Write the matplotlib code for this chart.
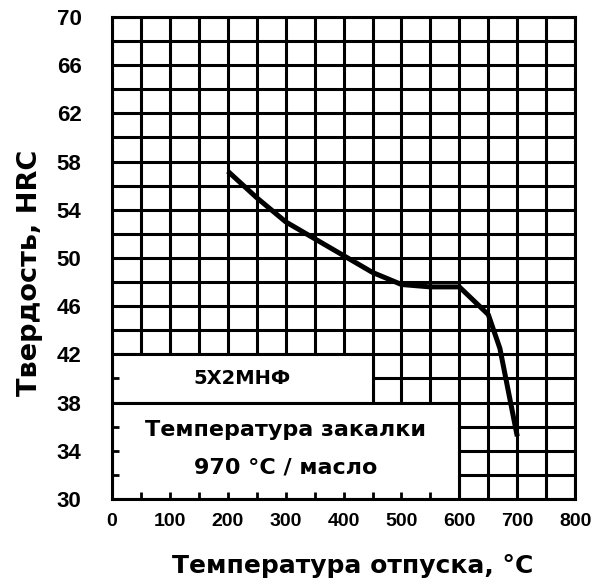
import numpy as np
import matplotlib.pyplot as plt
from matplotlib.patches import Rectangle
from matplotlib.ticker import MultipleLocator

# tempering curve, steel 5X2MHF
temps = [200, 250, 300, 350, 400, 450, 500, 550, 600, 650, 670, 700]
hrc = [57.2, 55.0, 53.0, 51.6, 50.2, 48.8, 47.8, 47.6, 47.6, 45.3, 42.5, 35.2]

x_ticks = [0, 100, 200, 300, 400, 500, 600, 700, 800]
y_ticks = [30, 34, 38, 42, 46, 50, 54, 58, 62, 66, 70]

steel_label = "5X2МНФ"
quench_lines = ["Температура закалки", "970 °C / масло"]

plt.rcParams['font.family'] = ['Liberation Sans', 'DejaVu Sans']

fig = plt.figure(figsize=(5.96, 5.86), dpi=100)
ax = fig.add_axes([0.188, 0.1485, 0.777, 0.8225])
ax.set_xlim(0, 800)
ax.set_ylim(30, 70)

# grid drawn by hand so the white boxes can sit over it
for gx in np.arange(0, 801, 50):
    ax.axvline(gx, color='black', lw=2.2, zorder=0.8)
for gy in np.arange(30, 71, 2):
    ax.axhline(gy, color='black', lw=2.2, zorder=0.8)

# label boxes
ax.add_patch(Rectangle((0, 38), 450, 4, facecolor='white', edgecolor='black', lw=2.2, zorder=1))
ax.add_patch(Rectangle((0, 30), 600, 8, facecolor='white', edgecolor='black', lw=2.2, zorder=1))

txt = dict(ha='center', va='center', fontweight='bold', family='DejaVu Sans', zorder=4)
ax.text(225, 40, steel_label, fontsize=14, **txt)
ax.text(300, 35.7, quench_lines[0], fontsize=16, **txt)
ax.text(300, 32.65, quench_lines[1], fontsize=16, **txt)

ax.plot(temps, hrc, color='black', lw=3.6, solid_capstyle='butt', zorder=3)

ax.set_xticks(x_ticks)
ax.set_yticks(y_ticks)
ax.xaxis.set_minor_locator(MultipleLocator(50))
ax.yaxis.set_minor_locator(MultipleLocator(2))
ax.tick_params(which='both', direction='in', length=5, width=2, top=False, right=False)
ax.tick_params(axis='x', which='major', pad=10, labelsize=14)
ax.tick_params(axis='y', which='major', pad=22, labelsize=16)
for lab in ax.get_xticklabels() + ax.get_yticklabels():
    lab.set_fontweight('bold')

for sp in ax.spines.values():
    sp.set_linewidth(2.2)

ax.set_xlabel("Температура отпуска, °C", fontsize=18, fontweight='bold',
              family='DejaVu Sans')
ax.set_ylabel("Твердость, HRC", fontsize=19.5, fontweight='bold',
              family='DejaVu Sans')
ax.xaxis.set_label_coords(0.52, -0.115)
ax.yaxis.set_label_coords(-0.15, 0.47)

fig.savefig("out.png", dpi=100)
